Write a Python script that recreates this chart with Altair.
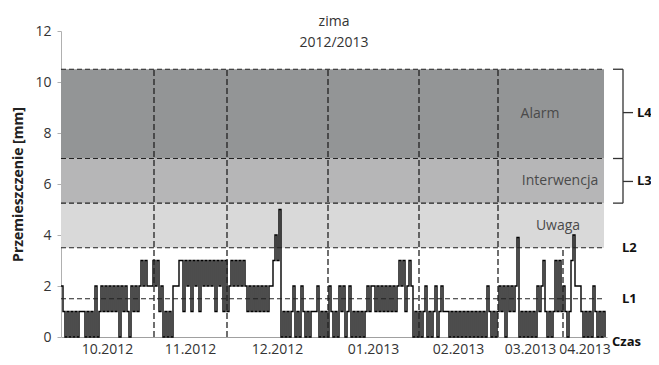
import altair as alt
import pandas as pd

# ---- data ----
values = [
    2, 1, 0, 1, 0, 1, 0, 1, 0, 1,
    1, 1, 0, 1, 0, 1, 0, 2, 0, 1,
    2, 1, 2, 1, 2, 1, 2, 1, 2, 0,
    2, 1, 2, 1, 0, 2, 1, 2, 1, 2,
    3, 2, 3, 2, 2, 2, 3, 2, 3, 1,
    2, 0, 1, 0, 1, 0, 2, 2, 2, 3,
    3, 1, 3, 2, 3, 1, 3, 2, 3, 1,
    3, 2, 3, 2, 3, 2, 3, 1, 3, 2,
    3, 1, 3, 1, 2, 3, 2, 3, 2, 3,
    2, 3, 2, 1, 2, 1, 2, 1, 2, 1,
    2, 1, 2, 1, 2, 2, 3, 4.0, 3, 5.0,
    0, 1, 0, 1, 0, 1, 2, 0, 1, 0,
    2, 1, 0, 1, 0, 1, 1, 1, 2, 0,
    1, 0, 1, 0, 2, 1, 0, 1, 0, 2,
    1, 2, 0, 1, 2, 0, 1, 0, 1, 0,
    1, 0, 1, 2, 1, 2, 2, 1, 2, 1,
    2, 1, 2, 1, 2, 1, 2, 1, 2, 3,
    2, 3, 1, 2, 3, 2, 0, 1, 0, 1,
    0, 1, 2, 0, 1, 0, 1, 2, 0, 1,
    2, 1, 1, 1, 0, 1, 0, 1, 0, 1,
    0, 1, 0, 1, 0, 1, 0, 1, 0, 1,
    0, 1, 0, 2, 1, 0, 1, 0, 1, 2,
    1, 2, 0, 2, 1, 2, 1, 2, 3.9, 0,
    1, 0, 1, 0, 1, 0, 1, 0, 2, 1,
    2, 3, 1, 0, 1, 0, 1, 3, 1, 3,
    1, 2, 1, 0, 1, 3, 4.0, 2, 2, 2,
    1, 0, 1, 0, 1, 0, 2, 1, 0, 1,
    0, 1, 0,
]
month_labels = ["10.2012", "11.2012", "12.2012", "01.2013", "02.2013", "03.2013", "04.2013"]
month_edges = [0, 46.5, 83, 133.5, 179, 218.5, 251, 273]

zone_names = ["Uwaga", "Interwencja", "Alarm"]
zone_low = [3.5, 5.25, 7.0]
zone_high = [5.25, 7.0, 10.5]
zone_colors = ["#d9d9d9", "#b6b6b7", "#939596"]
zone_label_x = [248.5, 249.5, 239.5]
zone_label_y = [4.35, 6.1, 8.75]

levels = [1.5, 3.5, 5.25, 7.0, 10.5]
level_names = ["L1", "L2", "L3", "L4", "Czas"]
level_label_x = [280.5, 280.5, 288, 288, 275.5]
level_label_y = [1.5, 3.5, 6.1, 8.8, -0.2]

FONT = "Open Sans"
X_END = 273
BAND_END = 271.5

xs = alt.Scale(domain=[0, X_END], nice=False, zero=False)
ys = alt.Scale(domain=[0, 12], nice=False)

series = pd.DataFrame({"i": list(range(len(values))), "v": values})

zones = pd.DataFrame({
    "name": zone_names, "lo": zone_low, "hi": zone_high,
    "x0": [0] * 3, "x1": [BAND_END] * 3,
    "lx": zone_label_x, "ly": zone_label_y,
})

bands = alt.Chart(zones).mark_rect().encode(
    x=alt.X("x0:Q", scale=xs, axis=alt.Axis(labels=False, ticks=False, title=None, grid=False,
                                             domainColor="#a0a0a0")),
    x2="x1:Q",
    y=alt.Y("lo:Q", scale=ys),
    y2="hi:Q",
    color=alt.Color("name:N", scale=alt.Scale(domain=zone_names, range=zone_colors), legend=None),
)

zone_text = alt.Chart(zones).mark_text(font=FONT, fontSize=14, color="#4a4a4a").encode(
    x=alt.X("lx:Q", scale=xs), y=alt.Y("ly:Q", scale=ys), text="name:N"
)

line = alt.Chart(series).mark_line(interpolate="step-after", strokeWidth=1.4, color="#000").encode(
    x=alt.X("i:Q", scale=xs),
    y=alt.Y("v:Q", scale=ys,
            axis=alt.Axis(values=[0, 2, 4, 6, 8, 10, 12], grid=False, title="Przemieszczenie [mm]",
                          titleFont=FONT, titleFontSize=14, titleFontWeight="bold", titleColor="#222",
                          titlePadding=9, labelFont=FONT, labelFontSize=14, labelColor="#333",
                          labelPadding=6, tickSize=4, tickColor="#b0b0b0", domainColor="#b0b0b0")),
)

hlines = pd.DataFrame({"y": levels, "x0": [0] * len(levels), "x1": [X_END - 1] * len(levels)})
hrules = alt.Chart(hlines).mark_rule(color="#222", strokeDash=[5, 3], strokeWidth=1.2).encode(
    x=alt.X("x0:Q", scale=xs), x2="x1:Q", y=alt.Y("y:Q", scale=ys)
)

vlines = pd.DataFrame({
    "x": month_edges[1:-1],
    "y0": [0] * 6,
    "y1": [10.5, 10.5, 10.5, 10.5, 10.5, 3.5],
})
vrules = alt.Chart(vlines).mark_rule(color="#222", strokeDash=[6, 3], strokeWidth=1.3).encode(
    x=alt.X("x:Q", scale=xs), y=alt.Y("y0:Q", scale=ys), y2="y1:Q"
)

months = pd.DataFrame({
    "label": month_labels,
    "x": [(a + b) / 2 for a, b in zip(month_edges[:-1], month_edges[1:])],
    "y": [-0.5] * len(month_labels),
})
month_text = alt.Chart(months).mark_text(font=FONT, fontSize=14, color="#333").encode(
    x=alt.X("x:Q", scale=xs), y=alt.Y("y:Q", scale=ys), text="label:N"
)

# braces for L4 (7..10.5) and L3 (5.25..7)
brace_segments = pd.DataFrame({
    "xa": [276, 276, 281, 281, 276, 281, 281],
    "xb": [281, 281, 281, 286, 281, 286, 281],
    "ya": [10.5, 7.0, 10.5, 8.8, 5.25, 6.1, 7.0],
    "yb": [10.5, 7.0, 7.0, 8.8, 5.25, 6.1, 5.25],
})
braces = alt.Chart(brace_segments).mark_rule(color="#333", strokeWidth=1.3).encode(
    x=alt.X("xa:Q", scale=xs), x2="xb:Q", y=alt.Y("ya:Q", scale=ys), y2="yb:Q"
)

lv = pd.DataFrame({"name": level_names, "x": level_label_x, "y": level_label_y})
level_text = alt.Chart(lv).mark_text(font=FONT, fontSize=13, fontWeight="bold", color="#111",
                                      align="left").encode(
    x=alt.X("x:Q", scale=xs), y=alt.Y("y:Q", scale=ys), text="name:N"
)

chart = alt.layer(bands, zone_text, line, hrules, vrules, month_text, braces, level_text).properties(
    width=546, height=306,
    padding={"left": 53, "top": 23, "right": 44, "bottom": 20},
    autosize=alt.AutoSizeParams(type="none"),
    title=alt.TitleParams(["zima", "2012/2013"], font=FONT, fontSize=14, fontWeight="normal",
                          color="#333", lineHeight=21, offset=-26, anchor="middle"),
).configure_view(stroke=None)

chart.save("out.html", embed_options={"renderer": "svg", "actions": False})
